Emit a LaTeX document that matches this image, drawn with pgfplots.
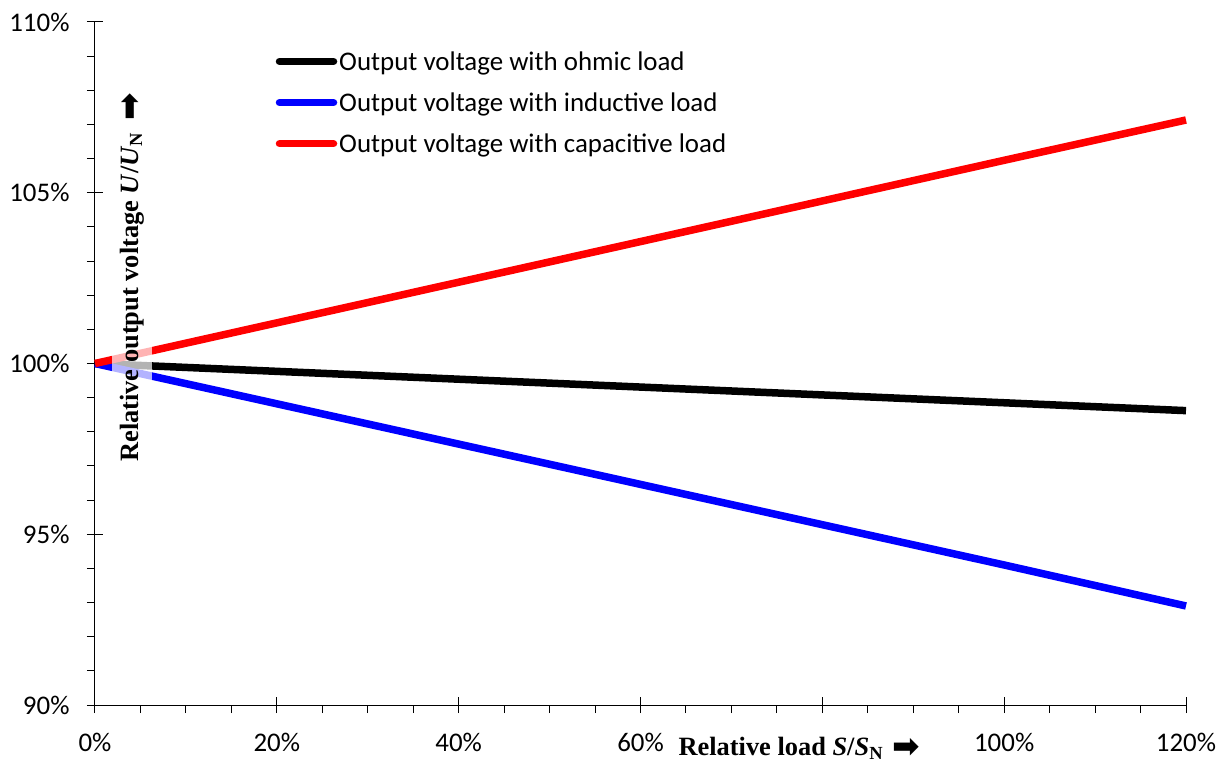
\documentclass[border=0pt]{standalone}
\usepackage{fontspec}
\setmainfont{Carlito}
\newfontfamily\tnr{Liberation Serif}
\newfontfamily\dejavu{DejaVu Sans}
\usepackage{pgfplots}
\pgfplotsset{compat=1.18}
\newcommand{\bigarrow}{\raisebox{-2bp}{\dejavu\fontsize{33}{33}\selectfont ➡}}
\begin{document}
\begin{tikzpicture}
\path[use as bounding box] (-95bp,-59bp) rectangle (1129bp,705bp);
\begin{axis}[
  scale only axis, width=1091bp, height=683bp,
  xmin=0, xmax=120, ymin=90, ymax=110,
  clip=false,
  axis lines=left, axis line style={-, line width=1bp, black},
  xtick={0,20,...,120}, xticklabels={0\%,20\%,40\%,60\%,,100\%,120\%},
  ytick={90,95,100,105,110}, yticklabels={90\%,95\%,100\%,105\%,110\%},
  minor x tick num=3, minor y tick num=4,
  tick align=center,
  tick style={black, line width=1bp},
  major tick length=16bp, minor tick length=8bp,
  minor x tick style={yshift=-4bp},
  minor y tick style={xshift=-4bp},
  tick label style={font=\fontsize{27}{32}\selectfont},
  xticklabel style={yshift=-17bp},
  yticklabel style={xshift=-14bp},
  legend style={at={(axis description cs:0.1655,0.882)}, anchor=west,
    draw=none, fill=none, inner xsep=0pt, inner ysep=0pt,
    font=\fontsize{27}{32}\selectfont, row sep=17bp},
  legend cell align=left,
  legend image code/.code={\draw[#1, line cap=round] (0bp,0bp) -- (54bp,0bp);},
  every axis plot/.append style={line width=7.5bp},
]
\addplot[black] coordinates {(0,100) (20,99.77) (40,99.54) (60,99.31) (80,99.08) (100,98.85) (120,98.62)};
\addlegendentry{Output voltage with ohmic load}
\addplot[blue] coordinates {(0,100) (20,98.82) (40,97.64) (60,96.46) (80,95.28) (100,94.1) (120,92.9)};
\addlegendentry{Output voltage with inductive load}
\addplot[red] coordinates {(0,100) (20,101.19) (40,102.38) (60,103.57) (80,104.76) (100,105.95) (120,107.13)};
\addlegendentry{Output voltage with capacitive load}
\node[rotate=90, fill=white, fill opacity=0.7, text opacity=1, inner xsep=4bp, inner ysep=8bp,
  font=\tnr\bfseries\fontsize{26.5}{32}\selectfont]
  at (axis description cs:0.034,0.626)
  {Relative output voltage \textit{U}/\textit{U}\textsubscript{N}\hspace{0.45em}\bigarrow};
\node[fill=white, inner sep=2bp, font=\tnr\bfseries\fontsize{26.5}{32}\selectfont]
  at (axis description cs:0.6455,-0.063)
  {Relative load \textit{S}/\textit{S}\textsubscript{N}\hspace{0.35em}\bigarrow};
\end{axis}
\end{tikzpicture}
\end{document}
